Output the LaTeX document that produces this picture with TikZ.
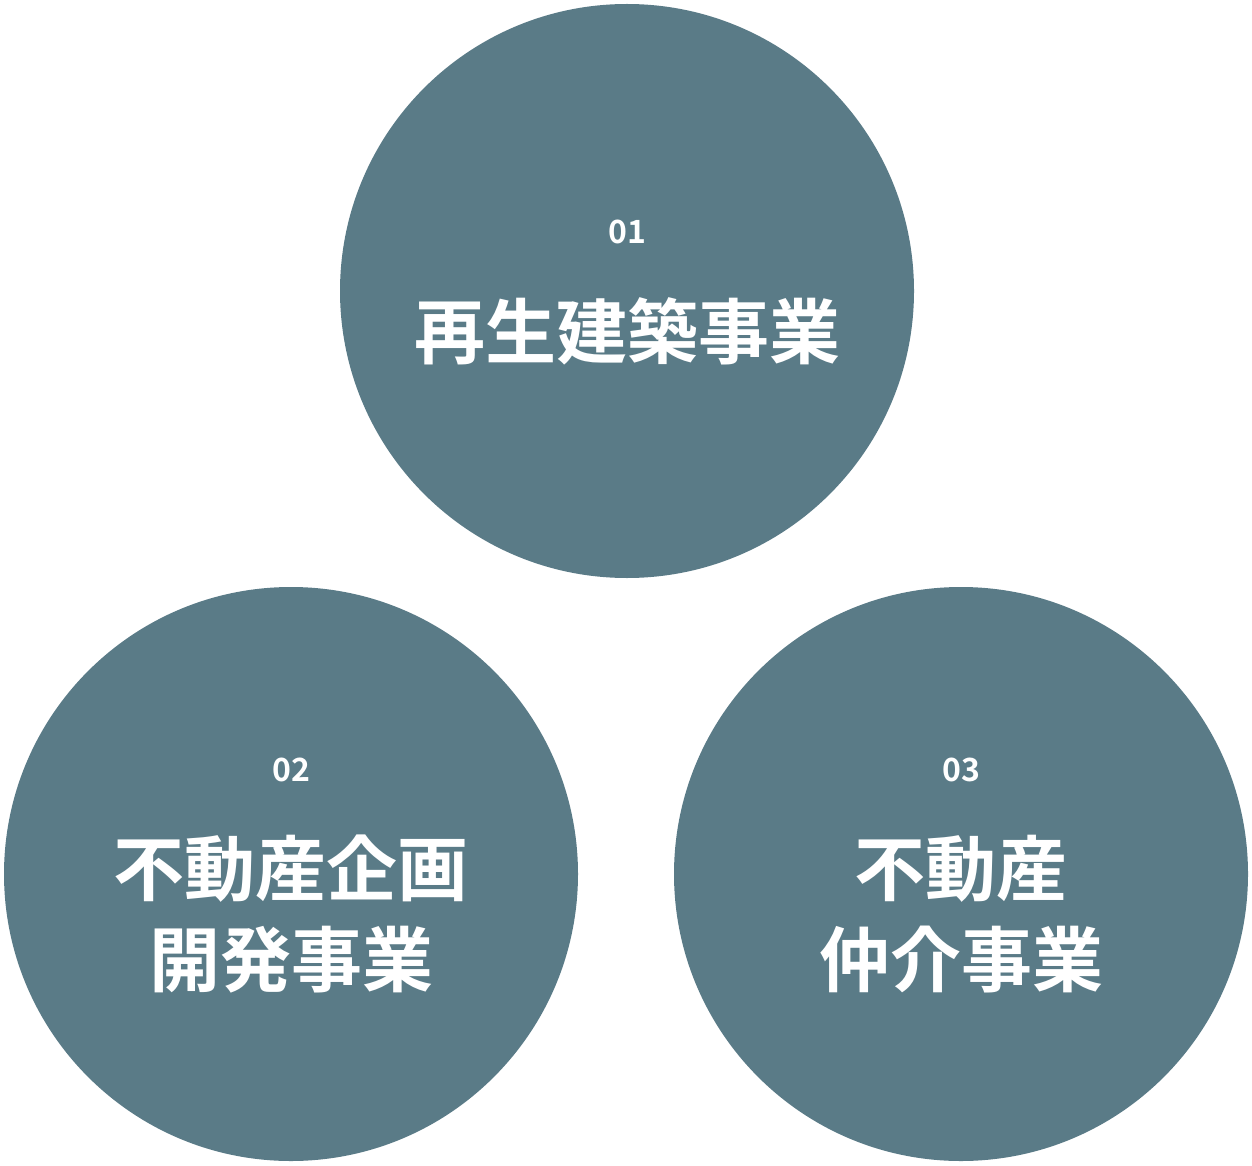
\documentclass[tikz,border=0pt]{standalone}
\usepackage{fontspec}
\newfontfamily\jpfont{Noto Sans CJK JP Bold}
\definecolor{biz}{HTML}{5A7B87}
\begin{document}
\begin{tikzpicture}[x=0.5pt, y=-0.5pt,
                    biz node/.style={circle,fill=biz,inner sep=0pt,minimum size=287pt},
                    num node/.style={text=white,inner sep=0pt,font=\jpfont\fontsize{16}{16}\selectfont},
                    title node/.style={text=white,inner sep=0pt,align=center,font=\jpfont\fontsize{35.5}{45.5}\selectfont}]

  \useasboundingbox (0,0) rectangle (1252,1166);

  \node[biz node] (saisei) at (627,291) {};
  \node[biz node] (kaihatsu) at (291,874) {};
  \node[biz node] (chukai) at (961,874) {};

  \node[num node] (n1) at (627,232) {01};
  \node[num node] (n2) at (291,770) {02};
  \node[num node] (n3) at (961,770) {03};

  \node[title node] (t1) at (627,331) {再生建築事業};
  \node[title node] (t2) at (291,914) {不動産企画\\開発事業};
  \node[title node] (t3) at (961,914) {不動産\\仲介事業};

\end{tikzpicture}
\end{document}
